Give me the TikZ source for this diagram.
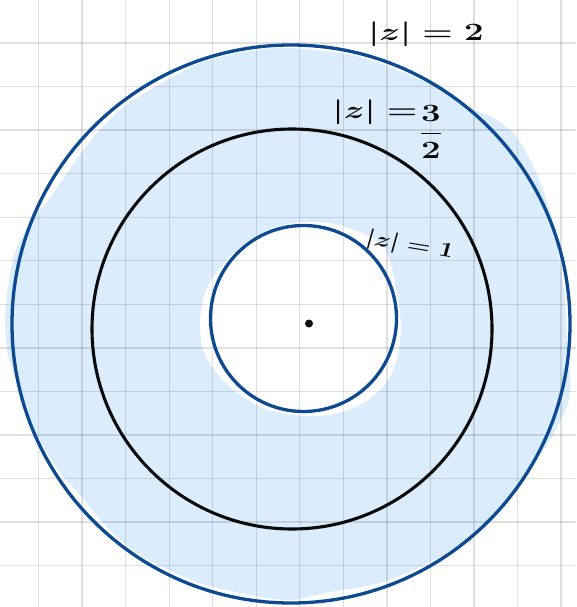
\documentclass[tikz,border=0pt]{standalone}
\usepackage{amsmath,amssymb}
\usepackage{tikz}
\definecolor{ringBlue}{RGB}{14, 74, 145}
\definecolor{paintBlue}{RGB}{219, 236, 252}
\definecolor{inkBlack}{RGB}{10, 10, 10}

\begin{document}
\begin{tikzpicture}[x=1pt, y=-1pt,
  gridLine/.style={line width=1.3pt, black, opacity=0.12},
  ring/.style={line width=3.3pt, ringBlue},
  hand/.style={inkBlack, inner sep=0pt, font=\fontsize{24}{24}\selectfont\boldmath, xscale=1.4}]
  \useasboundingbox (0,0) rectangle (576,607);

  % 1. painted annulus 1<|z|<2
  \fill[paintBlue, even odd rule]
    plot[smooth cycle] coordinates {
      (291,48) (360,57) (430,84) (470,108) (492,117) (515,135) (535,170)
      (548,205) (556,240) (564,290) (567,340) (570,395) (553,435) (531,467)
      (510,497) (485,525) (455,548) (420,567) (380,583) (330,592) (290,600)
      (245,594) (200,583) (160,566) (130,548) (105,525) (82,497) (58,470)
      (35,430) (20,390) (8,355) (5,320) (9,280) (16,250) (32,220) (50,198)
      (68,172) (95,135) (125,106) (152,89) (200,63) (250,51)}
    plot[smooth cycle] coordinates {
      (303,222) (335,224) (362,233) (383,246) (392,268) (398,300) (401,325)
      (398,355) (387,382) (365,402) (335,414) (303,416) (268,410) (240,395)
      (218,375) (203,350) (200,320) (206,290) (222,265) (245,243) (272,228)};

  % 2. squared paper
  \foreach \gx in {0,...,12}
    \draw[gridLine] ({38.5+43.55*\gx},0) -- ({38.5+43.55*\gx},607);
  \foreach \gy in {0,...,12}
    \draw[gridLine] (0,{43+43.55*\gy}) -- (576,{43+43.55*\gy});

  % 3. the three circles
  \draw[ring] (291,324) circle[radius=279pt];
  \draw[line width=3.1pt, inkBlack] (292,329) circle[radius=200pt];
  \draw[ring] (303.5,318.5) circle[radius=93pt];
  \coordinate (origin) at (309,323.5);
  \fill[inkBlack] (origin) circle[radius=4pt];

  % 4. labels
  \node[hand] (lblTwo) at (426,34) {$|z| = 2$};
  \node[hand] (lblHalf) at (375,112) {$|z| =$};
  \node[hand] (fracHalf) at (431,132) {$\dfrac{3}{2}$};
  \node[hand, font=\fontsize{20}{20}\selectfont\boldmath, xscale=0.93, rotate=-12] (lblOne) at (410,246) {$|z| = 1$};
\end{tikzpicture}
\end{document}
